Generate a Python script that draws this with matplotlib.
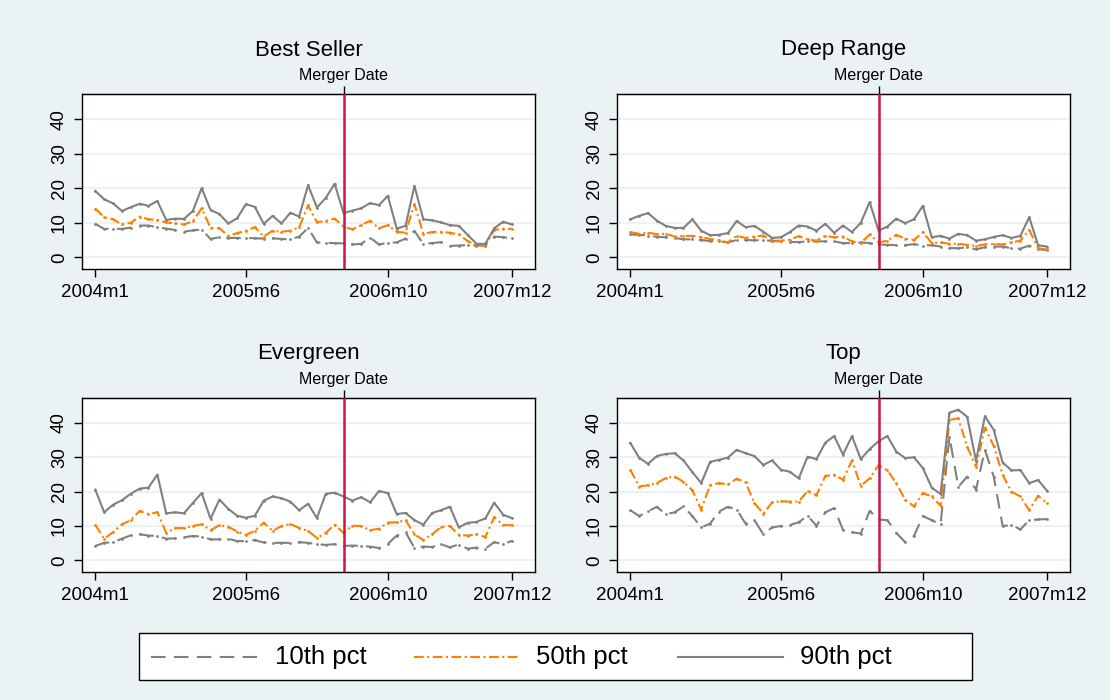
import matplotlib
matplotlib.use("Agg")
import matplotlib.pyplot as plt
from matplotlib.lines import Line2D
from matplotlib.patches import Rectangle
import numpy as np

plt.rcParams['font.family'] = ['Liberation Sans', 'DejaVu Sans']
plt.rcParams['lines.scale_dashes'] = False

# ---------------- data ----------------
months = [f"{y}m{m}" for y in range(2004, 2008) for m in range(1, 13)]
tick_labels = ["2004m1", "2005m6", "2006m10", "2007m12"]
merger_month = "2006m5"
panel_titles = ["Best Seller", "Deep Range", "Evergreen", "Top"]
series_labels = ["10th pct", "50th pct", "90th pct"]

best_p10 = [9.7, 8.2, 8.3, 8.2, 8.6, 9.2, 9.2, 8.7, 8.3, 7.9, 7.4, 7.8, 8.0, 5.3, 5.8, 5.6,
            5.6, 5.6, 5.5, 5.4, 5.5, 5.3, 5.2, 6.0, 8.5, 4.3, 4.2, 4.1, 4.0, 3.7, 3.9, 5.7,
            3.7, 4.2, 4.3, 5.4, 7.6, 3.9, 4.1, 4.4, 3.3, 3.4, 3.5, 3.4, 3.4, 6.0, 5.8, 5.5]
best_p50 = [14.1, 11.6, 11.0, 9.5, 10.0, 11.8, 11.0, 10.8, 10.1, 9.8, 9.5, 10.4, 14.2, 8.5, 8.4, 6.2,
            7.0, 7.7, 8.7, 6.0, 7.7, 7.4, 7.7, 8.7, 15.0, 10.2, 10.5, 11.2, 8.9, 8.1, 9.3, 10.6,
            8.4, 9.3, 7.4, 7.1, 15.4, 6.8, 7.3, 7.4, 7.1, 6.6, 4.7, 3.4, 3.4, 7.9, 8.3, 8.2]
best_p90 = [19.2, 16.8, 15.6, 13.4, 14.5, 15.5, 14.9, 16.3, 10.8, 11.2, 11.1, 13.4, 20.0, 13.7, 12.5, 9.8,
            11.3, 15.4, 14.6, 9.7, 12.0, 9.8, 12.9, 11.8, 20.9, 14.4, 17.2, 21.3, 12.8, 13.5, 14.2, 15.7,
            15.1, 17.8, 8.3, 9.1, 20.7, 11.0, 10.7, 10.1, 9.3, 9.1, 6.5, 3.9, 3.9, 8.4, 10.3, 9.5]

deep_p10 = [6.6, 6.5, 6.3, 5.9, 5.8, 5.6, 5.2, 5.2, 5.0, 4.7, 4.6, 4.3, 5.0, 5.0, 4.9, 5.0,
            4.7, 4.6, 4.4, 4.4, 4.6, 4.6, 4.6, 4.6, 4.1, 4.1, 4.3, 4.1, 3.7, 3.6, 3.5, 3.5,
            3.8, 3.4, 3.5, 3.1, 2.7, 2.6, 2.9, 2.3, 2.9, 3.1, 3.1, 2.6, 2.5, 3.4, 2.3, 2.1]
deep_p50 = [7.3, 6.8, 7.1, 6.7, 6.8, 6.0, 6.2, 6.2, 5.8, 5.3, 4.9, 4.3, 6.2, 5.6, 6.0, 6.3,
            4.8, 4.8, 5.1, 6.1, 5.2, 4.8, 6.2, 5.8, 6.0, 4.6, 4.1, 6.6, 4.3, 4.8, 6.5, 5.4,
            5.0, 7.3, 4.1, 4.3, 3.9, 3.9, 3.6, 3.3, 3.7, 3.9, 3.7, 4.3, 4.8, 7.9, 2.6, 2.3]
deep_p90 = [11.0, 12.0, 12.8, 10.6, 9.1, 8.5, 8.5, 11.0, 7.7, 6.4, 6.5, 7.0, 10.5, 8.7, 9.1, 7.4,
            5.6, 5.8, 7.3, 9.2, 8.9, 7.7, 9.7, 7.1, 9.2, 7.3, 10.0, 16.0, 7.7, 8.9, 11.2, 9.9,
            11.0, 14.9, 5.8, 6.2, 5.4, 6.8, 6.4, 4.8, 5.2, 5.9, 6.4, 5.6, 6.2, 11.6, 3.5, 3.1]

ever_p10 = [4.2, 5.1, 5.3, 6.3, 7.3, 7.6, 7.2, 7.1, 6.3, 6.4, 6.7, 7.1, 6.9, 6.1, 6.1, 6.3,
            5.6, 5.6, 5.9, 5.2, 5.1, 5.1, 5.1, 5.3, 5.1, 4.7, 4.5, 4.7, 4.2, 4.3, 4.2, 4.0,
            3.6, 4.8, 7.2, 8.2, 3.6, 4.0, 3.9, 4.7, 3.8, 4.6, 3.4, 3.7, 3.4, 5.3, 4.7, 5.7]
ever_p50 = [10.3, 6.3, 8.2, 10.5, 11.7, 14.4, 13.5, 14.0, 8.0, 9.4, 9.4, 10.0, 10.5, 8.8, 10.2, 9.8,
            8.4, 7.4, 8.6, 11.0, 8.6, 10.0, 10.6, 9.4, 8.6, 6.5, 8.0, 10.4, 8.0, 10.1, 10.0, 8.8,
            9.2, 11.0, 11.1, 11.7, 7.6, 5.9, 7.6, 9.7, 10.0, 7.4, 7.2, 7.6, 6.8, 12.6, 10.3, 10.2]
ever_p90 = [20.6, 14.0, 16.2, 17.5, 19.4, 20.9, 21.2, 25.0, 13.7, 14.0, 13.7, 16.7, 19.6, 12.1, 17.7, 15.0,
            13.0, 12.4, 13.0, 17.4, 18.6, 18.1, 17.1, 14.6, 16.5, 12.3, 19.4, 19.7, 18.6, 17.4, 18.4, 16.9,
            20.2, 19.6, 13.5, 13.8, 11.7, 10.4, 13.8, 14.6, 15.6, 9.6, 10.9, 11.2, 12.2, 16.8, 13.3, 12.3]

top_p10 = [14.6, 12.9, 14.3, 15.6, 13.4, 14.0, 15.7, 12.9, 9.6, 10.7, 14.2, 15.6, 14.8, 10.7, 11.7, 7.6,
           9.6, 10.0, 10.3, 11.1, 13.0, 10.1, 14.0, 15.2, 8.8, 8.2, 7.8, 14.4, 11.9, 11.7, 8.0, 5.3,
           7.1, 12.9, 11.7, 10.5, 36.0, 21.4, 24.4, 20.6, 32.2, 24.4, 10.0, 10.3, 9.0, 11.7, 11.9, 12.0]
top_p50 = [26.4, 21.5, 21.9, 22.5, 24.0, 24.4, 22.9, 20.4, 14.8, 21.9, 22.5, 22.1, 23.8, 22.7, 16.7, 13.6,
           16.9, 17.2, 17.1, 17.1, 20.2, 19.0, 24.6, 24.9, 23.5, 29.1, 21.7, 23.9, 27.7, 26.2, 22.5, 17.7,
           15.7, 19.6, 18.6, 15.9, 40.9, 41.4, 33.1, 27.3, 38.7, 33.3, 24.9, 20.0, 18.6, 14.6, 18.8, 16.7]
top_p90 = [34.2, 29.9, 28.1, 30.4, 31.0, 31.2, 29.1, 25.7, 22.5, 28.7, 29.3, 29.9, 32.2, 31.2, 30.4, 27.8,
           29.1, 26.4, 25.8, 23.9, 30.2, 29.5, 34.3, 36.2, 30.8, 36.2, 29.5, 32.4, 34.7, 36.2, 31.7, 29.8,
           30.0, 26.9, 21.2, 19.3, 43.0, 43.9, 41.8, 29.0, 42.0, 38.0, 28.5, 26.2, 26.3, 22.5, 23.4, 20.3]

panels = [
    (best_p10, best_p50, best_p90),
    (deep_p10, deep_p50, deep_p90),
    (ever_p10, ever_p50, ever_p90),
    (top_p10, top_p50, top_p90),
]

# ---------------- style ----------------
BG = "#EAF2F3"
GRID = "#EAF2F3"
GRAY = "#808080"
ORANGE = "#FF7F00"
RED = "#C8164A"
W, H = 1110, 700

styles = [
    dict(color=GRAY, lw=1.5, dashes=(10.5, 6)),
    dict(color=ORANGE, lw=1.5, dashes=(7, 2.5, 1.5, 2.5)),
    dict(color=GRAY, lw=1.5, linestyle="-"),
]

fig = plt.figure(figsize=(W / 100, H / 100), dpi=100, facecolor=BG)


def rect(l, t, r, b):
    return [l / W, 1 - b / H, (r - l) / W, (b - t) / H]


def fx(px):
    return px / W


def fy(py):
    return 1 - py / H


boxes = [(82, 94, 535, 269), (617, 94, 1070, 269), (82, 398, 535, 572), (617, 398, 1070, 572)]
title_y = [50, 50, 353, 353]

x = np.arange(len(months))
tick_pos = [months.index(t) for t in tick_labels]
merger_idx = months.index(merger_month)

for (l, t, r, b), ty, title, data in zip(boxes, title_y, panel_titles, panels):
    ax = fig.add_axes(rect(l, t, r, b), facecolor="white")
    for vals, st in zip(data, styles):
        ax.plot(x, vals, marker="o", markersize=2.0, markeredgewidth=0, **st)
    ax.axvline(merger_idx, color=RED, lw=1.8, zorder=3)
    ax.set_xlim(-1.5, 49.6)
    ax.set_ylim(-3.4, 47.3)
    ax.set_yticks([0, 10, 20, 30, 40])
    ax.set_yticklabels(["0", "10", "20", "30", "40"], rotation=90, va="center", fontsize=13.5)
    ax.set_xticks(tick_pos)
    ax.set_xticklabels(tick_labels, fontsize=13.5)
    ax.grid(axis="y", color=GRID, lw=1.5)
    ax.set_axisbelow(True)
    ax.tick_params(axis="both", direction="out", length=6, width=1, colors="black")
    ax.tick_params(axis="x", pad=5)
    ax.tick_params(axis="y", pad=4)
    for s in ax.spines.values():
        s.set_color("black")
        s.set_linewidth(1.0)
    top = ax.secondary_xaxis("top")
    top.set_xticks([merger_idx], labels=["Merger Date"])
    top.tick_params(direction="out", length=6, width=1, labelsize=11.5, pad=2)
    fig.text(fx((l + r) / 2), fy(ty), title, ha="center", va="center", fontsize=16)

# legend (drawn manually to match the reference layout)
fig.patches.append(Rectangle((fx(139), fy(680)), (972 - 139) / W, (680 - 633) / H,
                             transform=fig.transFigure, facecolor="white",
                             edgecolor="black", lw=1.0, zorder=0))
handle_x = [(151, 257), (414, 520), (678, 783)]
text_x = [275, 536, 800]
ly = 657
for (x0, x1), tx, st, lab in zip(handle_x, text_x, styles, series_labels):
    fig.add_artist(Line2D([fx(x0), fx(x1)], [fy(ly), fy(ly)], transform=fig.transFigure, **st))
    fig.text(fx(tx), fy(ly), lab, ha="left", va="center", fontsize=18.5)

fig.savefig("out.png", dpi=100, facecolor=BG)
